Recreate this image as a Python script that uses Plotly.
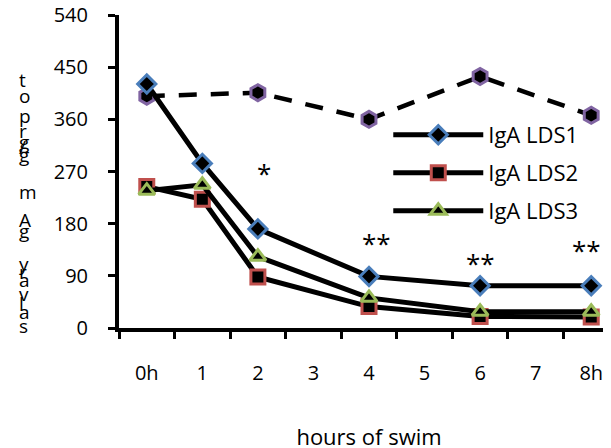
import plotly.graph_objects as go

categories = ["0h", "1", "2", "3", "4", "5", "6", "7", "8h"]
x_lds = ["0h", "1", "2", "4", "6", "8h"]
lds1 = [421, 284, 171, 89, 73, 73]
lds2 = [244, 222, 88, 37, 20, 19]
lds3 = [237, 247, 123, 52, 28, 28]
x_ctrl = ["0h", "2", "4", "6", "8h"]
ctrl = [400, 406, 360, 434, 367]
star_x = ["2", "4", "6", "8h"]
star_y = [267, 147, 112, 135]
star_text = ["*", "**", "**", "**"]
ylabel_chars = ["t", "o", "p", "r", "g", "/", "g", "m", "A", "g", "y", "r", "a", "v", "l", "a", "s"]

# page-pixel vertical placement of the stacked y-label letters (layout only)
ylabel_pos = [80, 96, 116, 131, 142, 147, 155, 192, 220, 231, 264, 272, 280, 294, 304, 312, 326]
star_shift = [6, 7, 0, -5]

font = "Open Sans, Liberation Sans, sans-serif"
fig = go.Figure()

fig.add_trace(go.Scatter(x=x_ctrl, y=ctrl, mode="lines+markers", showlegend=False,
                         line=dict(color="black", width=4.5, dash="18px,14px"),
                         marker=dict(symbol="hexagon", size=16, color="black",
                                     line=dict(color="#8064A2", width=3))))

styles = [("IgA LDS1", lds1, "diamond", "#4A7EBB", "legend"),
          ("IgA LDS2", lds2, "square", "#C0504D", "legend2"),
          ("IgA LDS3", lds3, "triangle-up", "#9BBB59", "legend3")]
for name, ys, sym, col, lg in styles:
    fig.add_trace(go.Scatter(x=x_lds, y=ys, mode="lines+markers", name=name, legend=lg,
                             line=dict(color="black", width=5),
                             marker=dict(symbol=sym, size=14, color="black",
                                         line=dict(color=col, width=3))))

for sx, sy, st, sh in zip(star_x, star_y, star_text, star_shift):
    fig.add_annotation(x=sx, y=sy, text=st, showarrow=False, xshift=sh,
                       font=dict(size=26, color="black", family=font))

for ch, py in zip(ylabel_chars, ylabel_pos):
    fig.add_annotation(xref="paper", yref="paper", x=0, y=(328 - py) / 313, xshift=-102,
                       text=ch, showarrow=False, yanchor="middle",
                       font=dict(size=19, color="black", family=font))

leg_common = dict(font=dict(size=22, color="black", family=font), bgcolor="rgba(0,0,0,0)",
                  xanchor="left", yanchor="middle", itemwidth=90)
lx = (388 - 119) / 499.5
fig.update_layout(
    width=611, height=448,
    margin=dict(l=111, r=0, t=7, b=128),
    paper_bgcolor="white", plot_bgcolor="white",
    font=dict(family=font, size=20, color="black"),
    legend=dict(x=lx, y=(328 - 135) / 313, **leg_common),
    legend2=dict(x=lx, y=(328 - 173) / 313, **leg_common),
    legend3=dict(x=lx, y=(328 - 211) / 313, **leg_common),
    xaxis=dict(type="category", categoryorder="array", categoryarray=categories,
               tickvals=categories, range=[-0.5, 8.5], tickson="boundaries", automargin=False,
               showline=True, linecolor="black", linewidth=4, ticks="outside",
               ticklen=7, tickwidth=3, tickcolor="black", showgrid=False, zeroline=False,
               ticklabelstandoff=24,
               tickfont=dict(size=20), title=dict(text="hours of swim", font=dict(size=22), standoff=46)),
    yaxis=dict(range=[0, 540], tickvals=[0, 90, 180, 270, 360, 450, 540], automargin=False,
               showline=True, linecolor="black", linewidth=4, ticks="outside",
               ticklen=7, tickwidth=3, tickcolor="black", showgrid=False, zeroline=False,
               ticklabelstandoff=16, ticklabeloverflow="allow",
               tickfont=dict(size=20)),
)
fig.write_html("out.html")
